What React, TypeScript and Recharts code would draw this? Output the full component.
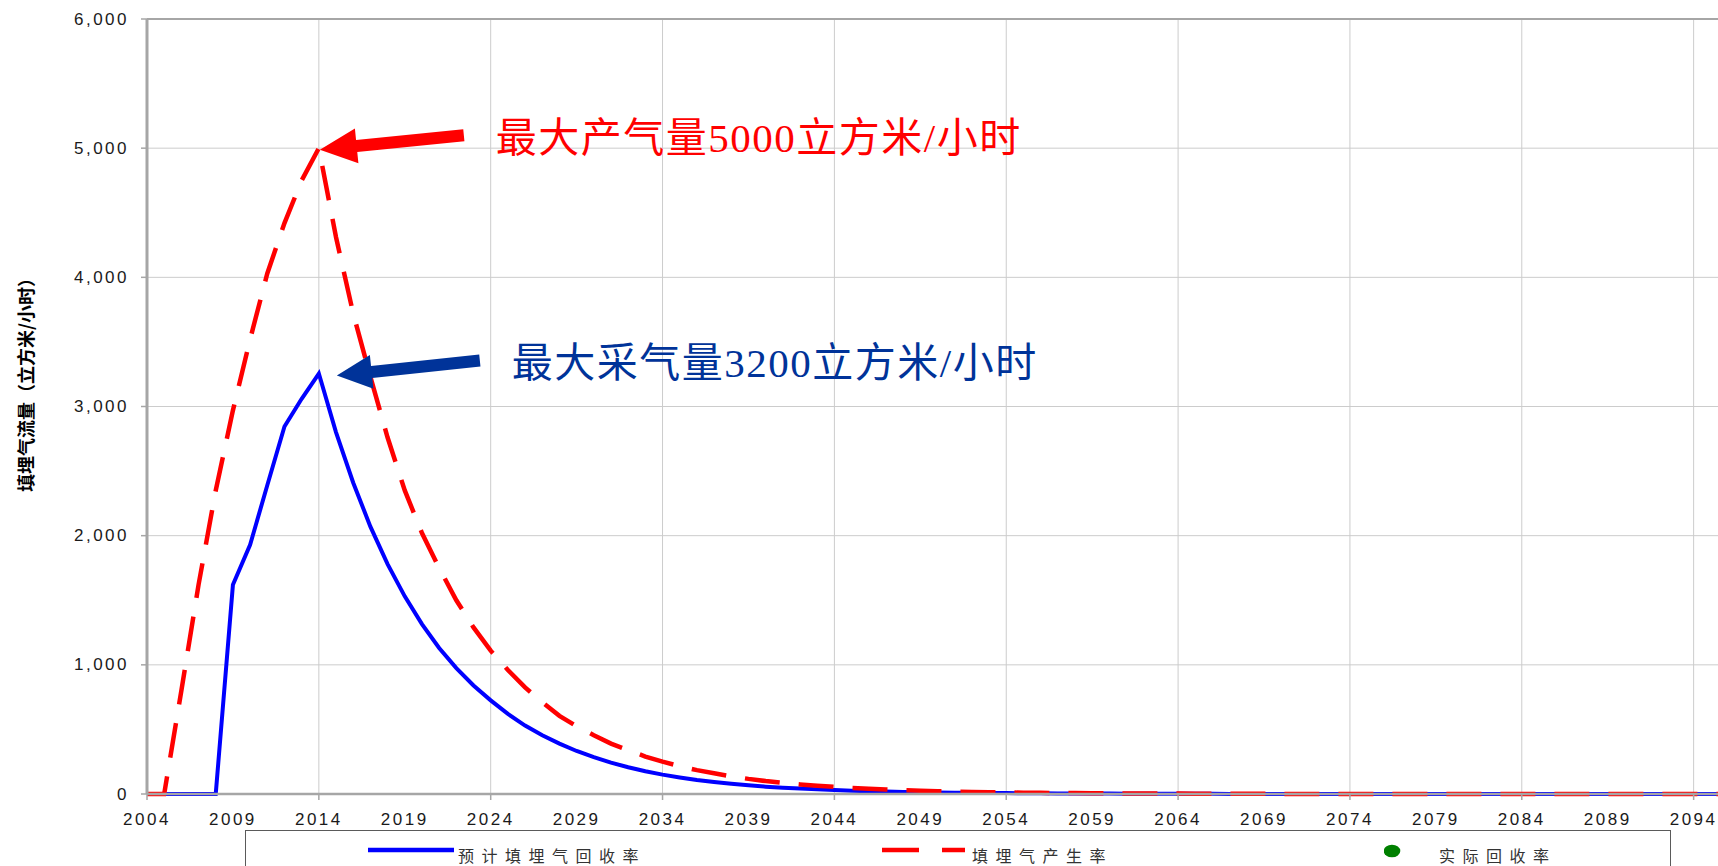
import React from 'react';
import {
  LineChart,
  Line,
  XAxis,
  YAxis,
  CartesianGrid,
  ReferenceLine,
  ReferenceDot,
  Legend,
  Label,
} from 'recharts';

// ---------------- data ----------------
const startYear = 2004;

// 填埋气产生率 (立方米/小时), one value per year from 2004
const generationRate: number[] = [
  0, 0, 800, 1620, 2350, 2970, 3520, 4030, 4420, 4750,
  5000, 4310, 3720, 3230, 2760, 2350, 2020, 1750, 1500, 1290,
  1110, 960, 825, 710, 605, 525, 455, 390, 340, 290,
  250, 215, 185, 160, 137, 117, 100, 86, 74, 64,
  55, 47, 40, 35, 30, 26, 22, 19, 16, 14,
  12, 10, 9, 8, 7, 6, 5, 4, 4, 3,
  3, 2, 2, 2, 1, 1, 1, 0, 0, 0,
  0, 0, 0, 0, 0, 0, 0, 0, 0, 0,
  0, 0, 0, 0, 0, 0, 0, 0, 0, 0,
  0, 0, 0,
];

// 预计填埋气回收率 (立方米/小时)
const recoveryRate: number[] = [
  0, 0, 0, 0, 0, 1620, 1930, 2390, 2845, 3060,
  3255, 2800, 2410, 2070, 1780, 1530, 1315, 1130, 975, 840,
  725, 620, 530, 455, 390, 333, 285, 243, 207, 176,
  150, 128, 109, 93, 79, 67, 57, 49, 42, 36,
  31, 26, 22, 19, 16, 14, 12, 10, 9, 8,
  7, 6, 5, 4, 4, 3, 3, 2, 2, 2,
  1, 1, 1, 0, 0, 0, 0, 0, 0, 0,
  0, 0, 0, 0, 0, 0, 0, 0, 0, 0,
  0, 0, 0, 0, 0, 0, 0, 0, 0, 0,
  0, 0, 0,
];

// 实际回收率 — no observations in the chart
const actualRecovery: (number | null)[] = [];

const years: number[] = generationRate.map((_, i) => startYear + i);

const xLabelYears = [
  2004, 2009, 2014, 2019, 2024, 2029, 2034, 2039, 2044, 2049,
  2054, 2059, 2064, 2069, 2074, 2079, 2084, 2089, 2094,
];
const xGridYears = [2014, 2024, 2034, 2044, 2054, 2064, 2074, 2084, 2094];
const yTicks = [0, 1000, 2000, 3000, 4000, 5000, 6000];

const seriesNames = {
  recovery: '预计填埋气回收率',
  generation: '填埋气产生率',
  actual: '实际回收率',
};
const yAxisTitle = '填埋气流量（立方米/小时）';
const genNote = '最大产气量5000立方米/小时';
const recNote = '最大采气量3200立方米/小时';

const data = years.map((year, i) => ({
  year,
  recovery: recoveryRate[i],
  generation: generationRate[i],
  actual: actualRecovery[i] ?? null,
}));

const peakGen = Math.max(...generationRate);
const peakGenYear = years[generationRate.indexOf(peakGen)];
const peakRec = Math.max(...recoveryRate);
const peakRecYear = years[recoveryRate.indexOf(peakRec)];

// ---------------- styling ----------------
const RED = '#FF0000';
const BLUE = '#0000FF';
const NAVY = '#003399';
const GREEN = '#008000';
const GRID = '#cccccc';
const AXIS = '#a6a6a6';
const TICK_FONT = "'Liberation Sans', Arial, sans-serif";
const CJK_SANS = "'Noto Sans CJK SC', 'Noto Sans', sans-serif";
const NOTE_FONT = "'Liberation Serif', 'Noto Sans CJK SC', serif";

const fmt = (v: number) => v.toLocaleString('en-US');

function arrowPoints(
  tx: number, ty: number, sx: number, sy: number,
  headLen: number, headHalf: number, shaftHalf: number
) {
  const dx = tx - sx;
  const dy = ty - sy;
  const len = Math.hypot(dx, dy);
  const ux = dx / len;
  const uy = dy / len;
  const nx = -uy;
  const ny = ux;
  const bx = tx - ux * headLen;
  const by = ty - uy * headLen;
  const pts = [
    [tx, ty],
    [bx + nx * headHalf, by + ny * headHalf],
    [bx + nx * shaftHalf, by + ny * shaftHalf],
    [sx + nx * shaftHalf, sy + ny * shaftHalf],
    [sx - nx * shaftHalf, sy - ny * shaftHalf],
    [bx - nx * shaftHalf, by - ny * shaftHalf],
    [bx - nx * headHalf, by - ny * headHalf],
  ];
  return pts.map((p) => p.join(',')).join(' ');
}

const GenAnnotation = (props: any) => {
  const { cx, cy } = props;
  if (cx == null || cy == null) return null;
  return (
    <g>
      <polygon points={arrowPoints(cx + 1, cy + 1.5, cx + 145, cy - 13, 37, 17.5, 6)} fill={RED} />
      <text
        x={cx + 177}
        y={cy - 10.5}
        dominantBaseline="central"
        fontSize={41}
        fontFamily={NOTE_FONT}
        letterSpacing={1.5}
        fill={RED}
      >
        {genNote}
      </text>
    </g>
  );
};

const RecAnnotation = (props: any) => {
  const { cx, cy } = props;
  if (cx == null || cy == null) return null;
  return (
    <g>
      <polygon points={arrowPoints(cx + 18, cy + 2, cx + 161, cy - 13, 35, 17, 6)} fill={NAVY} />
      <text
        x={cx + 193}
        y={cy - 11}
        dominantBaseline="central"
        fontSize={41}
        fontFamily={NOTE_FONT}
        letterSpacing={1.5}
        fill={NAVY}
      >
        {recNote}
      </text>
    </g>
  );
};

const XTick = (props: any) => {
  const { x, y, payload } = props;
  const major = (payload.value - startYear) % 10 === 0;
  return (
    <g>
      {major && <line x1={x} x2={x} y1={y} y2={y + 6} stroke={AXIS} strokeWidth={1.5} />}
      <text
        x={x}
        y={y + 31}
        textAnchor="middle"
        fontSize={17}
        fontFamily={TICK_FONT}
        letterSpacing={2.5}
        fill="#1a1a1a"
      >
        {payload.value}
      </text>
    </g>
  );
};

const YTick = (props: any) => {
  const { x, y, payload } = props;
  return (
    <text
      x={x}
      y={y}
      textAnchor="end"
      dominantBaseline="central"
      fontSize={17}
      fontFamily={TICK_FONT}
      letterSpacing={2.5}
      fill="#1a1a1a"
    >
      {fmt(payload.value)}
    </text>
  );
};

const YTitle = (props: any) => {
  const vb = props.viewBox || { x: 0, y: 19, width: 147, height: 775 };
  const cx = vb.x + 24.5;
  const cy = vb.y + vb.height / 2 - 26;
  return (
    <text
      x={cx}
      y={cy}
      transform={`rotate(-90, ${cx}, ${cy})`}
      textAnchor="middle"
      dominantBaseline="central"
      fontSize={18}
      fontWeight="bold"
      fontFamily={CJK_SANS}
      fill="#000"
    >
      {yAxisTitle}
    </text>
  );
};

const legendLayout: Record<string, { sample: number; text: number }> = {
  recovery: { sample: 122, text: 212 },
  generation: { sample: 636, text: 726 },
  actual: { sample: 1138, text: 1193 },
};

const LegendBox = (props: any) => {
  const payload = props.payload || [];
  return (
    <div
      style={{
        position: 'absolute',
        left: 0,
        top: 0,
        width: 1426,
        height: 60,
        boxSizing: 'border-box',
        border: '1.5px solid #5a5a5a',
        background: '#fff',
      }}
    >
      {payload.map((entry: any) => {
        const key = entry.dataKey as string;
        const pos = legendLayout[key];
        if (!pos) return null;
        let sample: React.ReactNode = null;
        if (key === 'actual') {
          sample = (
            <svg width={20} height={16} style={{ position: 'absolute', left: pos.sample, top: 13 }}>
              <ellipse cx={8} cy={7} rx={8.3} ry={6.3} fill={entry.color} />
            </svg>
          );
        } else {
          sample = (
            <svg width={90} height={10} style={{ position: 'absolute', left: pos.sample, top: 14 }}>
              <line
                x1={0}
                x2={key === 'generation' ? 83 : 86}
                y1={5}
                y2={5}
                stroke={entry.color}
                strokeWidth={4.5}
                strokeDasharray={key === 'generation' ? '37 23' : undefined}
              />
            </svg>
          );
        }
        return (
          <React.Fragment key={key}>
            {sample}
            <span
              style={{
                position: 'absolute',
                left: pos.text,
                top: 13,
                lineHeight: '22px',
                fontSize: 16,
                letterSpacing: 7.5,
                color: '#333',
                fontFamily: CJK_SANS,
                whiteSpace: 'nowrap',
              }}
            >
              {entry.value}
            </span>
          </React.Fragment>
        );
      })}
    </div>
  );
};

export default function App() {
  return (
    <div
      style={{
        position: 'absolute',
        left: 0,
        top: 0,
        width: 1718,
        height: 866,
        overflow: 'hidden',
        background: '#fff',
      }}
    >
      <LineChart
        width={1760}
        height={866}
        data={data}
        margin={{ top: 19, right: 32, bottom: 42, left: 0 }}
      >
        <CartesianGrid vertical={false} stroke={GRID} strokeWidth={1} />
        {xGridYears.map((yr) => (
          <ReferenceLine key={yr} x={yr} stroke={GRID} strokeWidth={1} />
        ))}
        <ReferenceLine y={6000} stroke={AXIS} strokeWidth={2} />
        <XAxis
          dataKey="year"
          type="number"
          domain={[startYear, years[years.length - 1]]}
          ticks={xLabelYears}
          interval={0}
          allowDataOverflow
          height={30}
          tickLine={false}
          tickSize={0}
          tickMargin={0}
          axisLine={{ stroke: AXIS, strokeWidth: 2.5 }}
          tick={<XTick />}
        />
        <YAxis
          type="number"
          domain={[0, 6000]}
          ticks={yTicks}
          interval={0}
          width={147}
          tickSize={6}
          tickMargin={12}
          tickLine={{ stroke: AXIS, strokeWidth: 1.5 }}
          axisLine={{ stroke: AXIS, strokeWidth: 3 }}
          tick={<YTick />}
        >
          <Label content={<YTitle />} />
        </YAxis>
        <Legend
          verticalAlign="bottom"
          align="left"
          layout="horizontal"
          wrapperStyle={{ left: 245, top: 830, bottom: 'auto', width: 0, height: 0, overflow: 'visible', padding: 0, margin: 0 }}
          content={<LegendBox />}
        />
        <Line
          dataKey="recovery"
          name={seriesNames.recovery}
          type="linear"
          stroke={BLUE}
          strokeWidth={4}
          dot={false}
          activeDot={false}
          isAnimationActive={false}
        />
        <Line
          dataKey="generation"
          name={seriesNames.generation}
          type="linear"
          stroke={RED}
          strokeWidth={4.5}
          strokeDasharray="35 19"
          dot={false}
          activeDot={false}
          isAnimationActive={false}
        />
        <Line
          dataKey="actual"
          name={seriesNames.actual}
          type="linear"
          stroke={GREEN}
          fill={GREEN}
          strokeWidth={0}
          dot={{ r: 7, fill: GREEN, stroke: GREEN }}
          activeDot={false}
          isAnimationActive={false}
        />
        <ReferenceDot x={peakGenYear} y={peakGen} r={0} shape={<GenAnnotation />} />
        <ReferenceDot x={peakRecYear} y={peakRec} r={0} shape={<RecAnnotation />} />
      </LineChart>
    </div>
  );
}
